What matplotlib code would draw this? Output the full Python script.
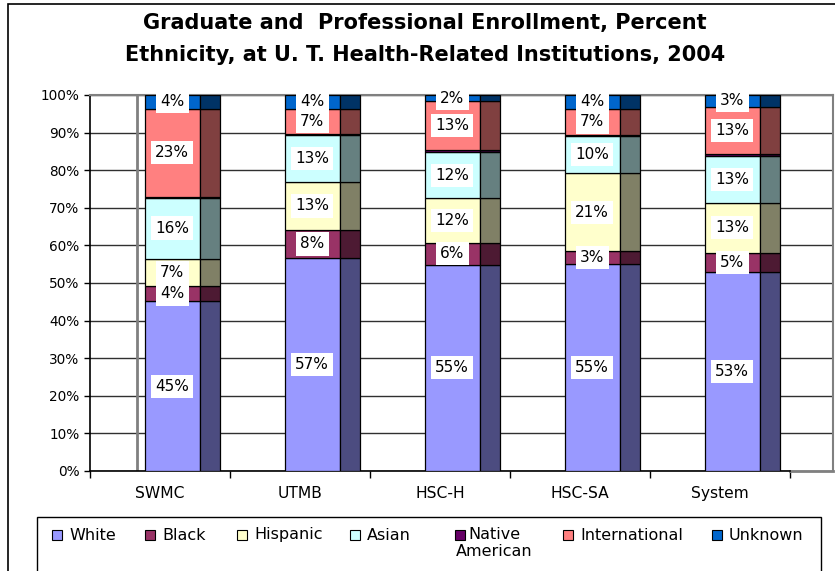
import matplotlib.pyplot as plt
from matplotlib.patches import Rectangle
import numpy as np

plt.rcParams['font.family'] = ['DejaVu Sans']

institutions = ["SWMC", "UTMB", "HSC-H", "HSC-SA", "System"]
groups = ["White", "Black", "Hispanic", "Asian", "Native\nAmerican", "International", "Unknown"]

# percent of enrollment
white = [45.1, 56.6, 54.9, 55.0, 52.9]
black = [4.0, 7.6, 5.7, 3.4, 5.2]
hispanic = [7.4, 12.6, 11.9, 20.8, 13.2]
asian = [16.2, 12.6, 12.3, 10.0, 12.6]
native = [0.3, 0.2, 0.5, 0.2, 0.4]
international = [23.4, 6.7, 13.1, 6.9, 12.6]
unknown = [3.6, 3.7, 1.6, 3.7, 3.1]
series = [white, black, hispanic, asian, native, international, unknown]
show_label = [True, True, True, True, False, True, True]

front_colors = ["#9999FF", "#993366", "#FFFFCC", "#CCFFFF", "#660066", "#FF8080", "#0066CC"]
side_colors = ["#4C4C80", "#4D1A33", "#808066", "#668080", "#330033", "#804040", "#003366"]

W, H = 835, 571
fig = plt.figure(figsize=(W / 100, H / 100), dpi=100)
# outer chart frame
fig.patches.append(Rectangle((8 / W, -0.1), 2, 1.1 - 4 / H, transform=fig.transFigure,
                             fill=False, edgecolor="black", linewidth=1.2))

ax = fig.add_axes([90 / W, 100 / H, 743 / W, 376 / H])
x = np.arange(len(institutions))

front_l, front_w = -0.11, 0.395
side_w = 0.14

bottom = np.zeros(len(institutions))
for vals, fc, sc, lab in zip(series, front_colors, side_colors, show_label):
    vals = np.array(vals)
    ax.bar(x + front_l, vals, width=front_w, bottom=bottom, align="edge",
           color=fc, edgecolor="black", linewidth=0.9, zorder=3)
    ax.bar(x + front_l + front_w, vals, width=side_w, bottom=bottom, align="edge",
           color=sc, edgecolor="black", linewidth=0.9, zorder=3)
    if lab:
        for xi, b, v in zip(x, bottom, vals):
            ax.text(xi + front_l + front_w / 2, b + v / 2, f"{v:.0f}%", ha="center", va="center",
                    fontsize=11, zorder=5, clip_on=False,
                    bbox=dict(facecolor="white", edgecolor="none", pad=3))
    bottom += vals

ax.set_xlim(-0.5, 4.807)
ax.set_ylim(0, 100)
ax.set_yticks(range(0, 101, 10))
ax.set_yticklabels([f"{v}%" for v in range(0, 101, 10)], fontsize=9.8)
ax.yaxis.grid(True, color="#303030", linewidth=1.0, zorder=0)
ax.set_axisbelow(True)

ax.set_xticks(x)
ax.set_xticklabels(institutions, fontsize=11.2)
ax.tick_params(axis="x", which="major", length=0, pad=11)
ax.set_xticks(np.arange(-0.5, 4.6, 1.0), minor=True)
ax.tick_params(axis="x", which="minor", length=5, width=1, color="black")
ax.tick_params(axis="y", length=4, width=1)

ax.spines["bottom"].set_bounds(-0.5, 4.5)
ax.spines["bottom"].set_linewidth(1.2)
ax.spines["left"].set_linewidth(1.2)
for s in ["top", "right"]:
    ax.spines[s].set_color("#808080")
    ax.spines[s].set_linewidth(1.5)
ax.plot([4.5, 4.807], [0, 0], color="#808080", linewidth=2, clip_on=False, zorder=1)
# back wall edge
ax.plot([-0.164, -0.164], [0, 100], color="#808080", linewidth=2, zorder=1)

fig.text(425 / W, 1 - 23 / H, "Graduate and  Professional Enrollment, Percent",
         ha="center", va="center", fontsize=15, fontweight="bold")
fig.text(425 / W, 1 - 55 / H, "Ethnicity, at U. T. Health-Related Institutions, 2004",
         ha="center", va="center", fontsize=15, fontweight="bold")

# legend drawn by hand so the two-line entry hangs below the row
fig.patches.append(Rectangle((37 / W, -0.1), 784 / W, 0.1 + 1 - 517 / H,
                             transform=fig.transFigure, fill=False,
                             edgecolor="black", linewidth=1.0))
marker_x = [52, 145, 237, 350, 455, 563, 712]
row_y = 535
for mx, c, name in zip(marker_x, front_colors, groups):
    fig.patches.append(Rectangle((mx / W, 1 - (row_y + 5) / H), 10 / W, 10 / H,
                                 transform=fig.transFigure, facecolor=c,
                                 edgecolor="black", linewidth=0.8))
    if "\n" in name:
        fig.text(494 / W, 1 - (row_y - 8) / H, name, ha="center", va="top",
                 multialignment="center", fontsize=11.5, linespacing=1.15)
    else:
        fig.text((mx + 17) / W, 1 - row_y / H, name, ha="left", va="center", fontsize=11.5)

fig.savefig("out.png", dpi=100)
